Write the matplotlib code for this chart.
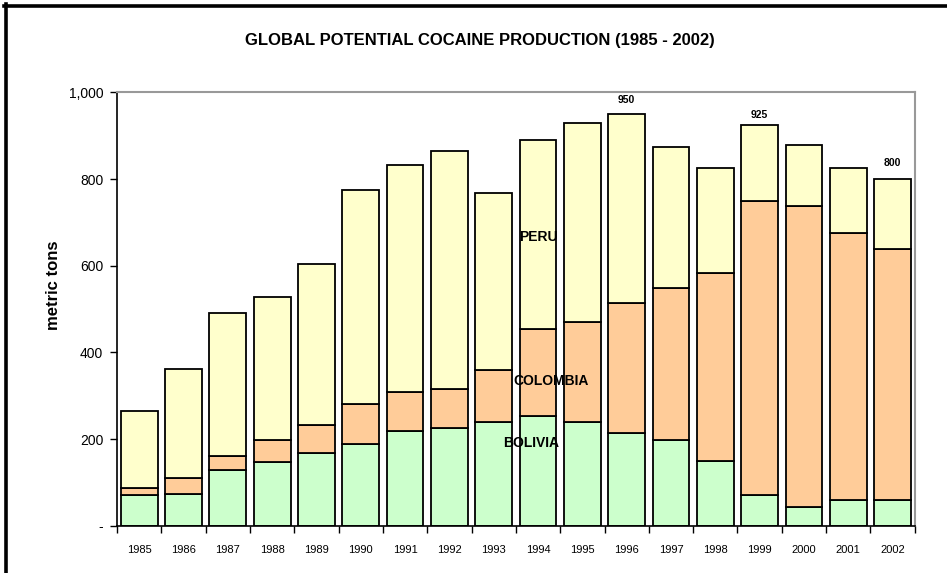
import numpy as np
import matplotlib
matplotlib.use('Agg')
import matplotlib.pyplot as plt
from matplotlib.lines import Line2D
from matplotlib.ticker import FuncFormatter

plt.rcParams['font.family'] = ['Liberation Sans', 'DejaVu Sans']

# du lieu doc tu hinh (tan)
years = ['1985', '1986', '1987', '1988', '1989', '1990', '1991', '1992', '1993',
         '1994', '1995', '1996', '1997', '1998', '1999', '2000', '2001', '2002']
bolivia = [70, 73, 128, 148, 167, 189, 219, 225, 239, 254, 239, 214, 199, 150, 70, 43, 60, 60]
colombia = [16, 38, 34, 51, 65, 92, 89, 90, 120, 201, 231, 301, 350, 434, 679, 695, 616, 579]
peru = [179, 250, 330, 328, 373, 493, 524, 550, 410, 436, 459, 435, 326, 241, 176, 141, 150, 161]
tong_labels = {'1996': 950, '1999': 925, '2002': 800}

mau_bolivia = '#CCFFCC'
mau_colombia = '#FFCC99'
mau_peru = '#FFFFCC'

fig = plt.figure(figsize=(9.47, 5.73), dpi=100)
ax = fig.add_axes([0.1236, 0.0825, 0.9659 - 0.1236, 0.8386 - 0.0825])

x = np.arange(len(years))
b = np.array(bolivia)
c = np.array(colombia)
p = np.array(peru)
w = 0.83
ax.bar(x, b, w, color=mau_bolivia, edgecolor='black', linewidth=1.3)
ax.bar(x, c, w, bottom=b, color=mau_colombia, edgecolor='black', linewidth=1.3)
ax.bar(x, p, w, bottom=b + c, color=mau_peru, edgecolor='black', linewidth=1.3)

# nhan tong tren cot
lech = {'1996': 20, '1999': 12, '2002': 26}
for yr, val in tong_labels.items():
    i = years.index(yr)
    ax.text(i, val + lech[yr], str(val), ha='center', va='bottom', fontsize=7.5, fontweight='bold')

# nhan quoc gia
ax.text(9, 666, 'PERU', ha='center', va='center', fontsize=10, fontweight='bold')
ax.text(9.3, 334, 'COLOMBIA', ha='center', va='center', fontsize=10, fontweight='bold')
ax.text(8.85, 191, 'BOLIVIA', ha='center', va='center', fontsize=10, fontweight='bold')

ax.set_xlim(-0.5, len(years) - 0.5)
ax.set_ylim(0, 1000)
ax.set_yticks(range(0, 1001, 200))
ax.yaxis.set_major_formatter(FuncFormatter(lambda v, pos: '-' if v == 0 else f'{int(v):,}'))
ax.set_xticks(np.arange(len(years) + 1) - 0.5)
ax.set_xticklabels([])
ax.set_xticks(x, minor=True)
ax.set_xticklabels(years, minor=True, fontsize=8)
ax.tick_params(axis='x', which='major', direction='out', length=5, width=1)
ax.tick_params(axis='x', which='minor', length=0, pad=14)
ax.tick_params(axis='y', direction='out', length=5, width=1, labelsize=10, pad=5)

for s in ['top', 'right']:
    ax.spines[s].set_color('#999999')
    ax.spines[s].set_linewidth(1.5)
for s in ['left', 'bottom']:
    ax.spines[s].set_color('black')
    ax.spines[s].set_linewidth(1.2)

fig.text(53 / 947, 1 - 285 / 573, 'metric tons', rotation=90, ha='center', va='center',
         fontsize=12, fontweight='bold')
fig.text(480 / 947, 1 - 40 / 573, 'GLOBAL POTENTIAL COCAINE PRODUCTION (1985 - 2002)',
         ha='center', va='center', fontsize=12, fontweight='bold')

# khung den o tren va ben trai
fig.add_artist(Line2D([5.5 / 947, 5.5 / 947], [0, 1 - 4 / 573], transform=fig.transFigure,
                      color='black', linewidth=2.6))
fig.add_artist(Line2D([4 / 947, 1], [1 - 5.5 / 573, 1 - 5.5 / 573], transform=fig.transFigure,
                      color='black', linewidth=2.6))

fig.savefig('out.png', dpi=100)
